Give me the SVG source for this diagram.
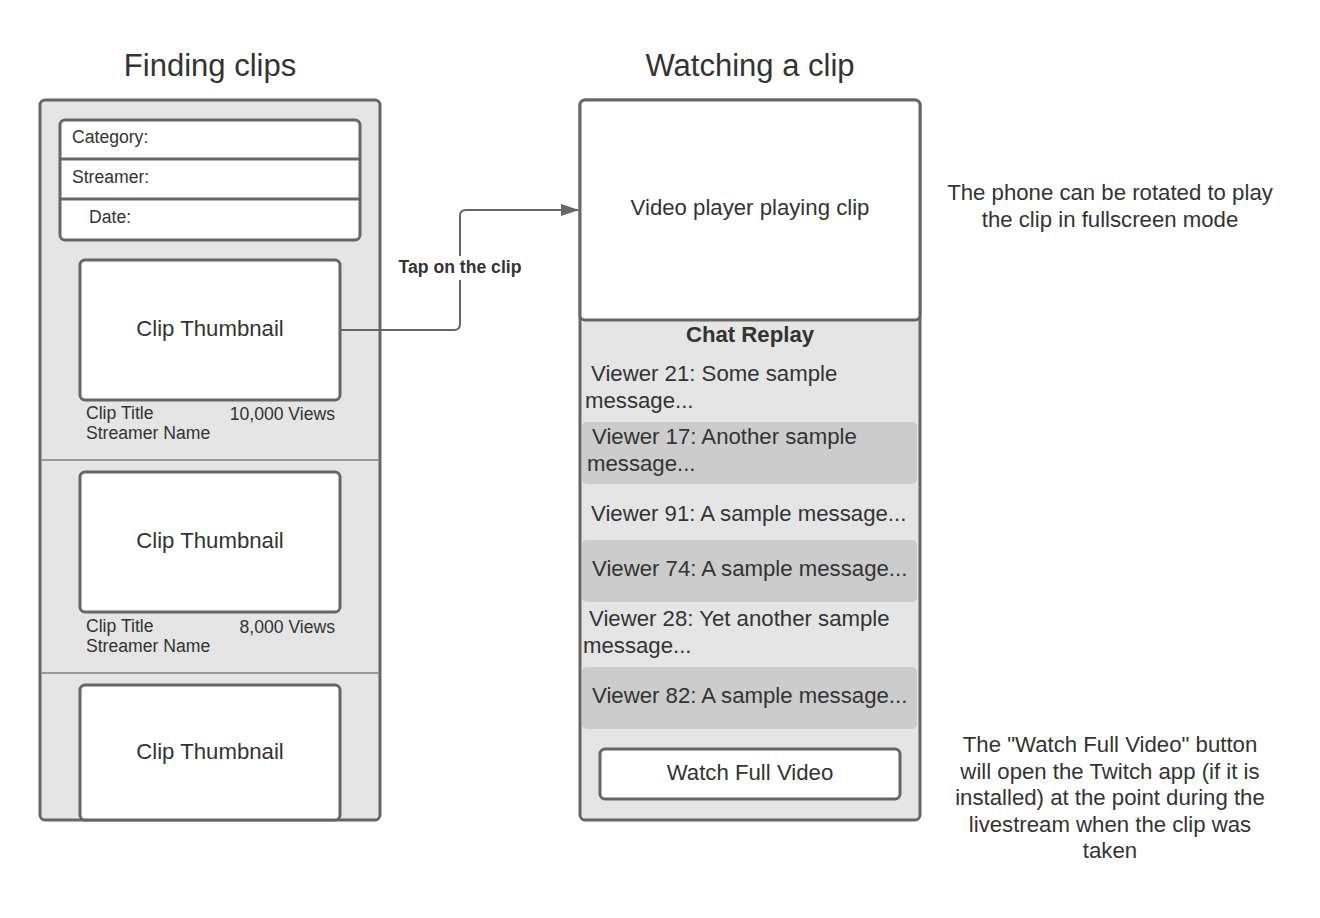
<svg xmlns="http://www.w3.org/2000/svg" width="1320" height="918" viewBox="0 0 1320 918">
<defs>
<style>
text{font-family:"Liberation Sans",Arial,sans-serif;fill:#333}
.phone{fill:#e5e5e5;stroke:#666;stroke-width:3}
.box{fill:#fff;stroke:#666;stroke-width:3}
.sep{stroke:#999;stroke-width:2}
.hl{fill:#cccccc}
.t16{font-size:17.6px}
.t20{font-size:22.2px}
.title{font-size:31px}
.mid{text-anchor:middle}
.end{text-anchor:end}
.conn{fill:none;stroke:#666;stroke-width:2}
</style>
<marker id="arr" markerWidth="18" markerHeight="12" refX="17" refY="6" orient="auto" markerUnits="userSpaceOnUse">
<path d="M0,0 L18,6 L0,12 Z" fill="#666"/>
</marker>
</defs>
<rect width="1320" height="918" fill="#fff"/>
<text class="title mid" x="210" y="76">Finding clips</text>
<text class="title mid" x="750" y="76">Watching a clip</text>

<g id="phone-left">
<rect class="phone" x="40" y="100" width="340" height="720" rx="5"/>
<line class="sep" x1="41" y1="460" x2="379" y2="460"/>
<line class="sep" x1="41" y1="673" x2="379" y2="673"/>
</g>
<g id="filters">
<rect class="box" x="60" y="120" width="300" height="120" rx="5"/>
<line x1="60" y1="159" x2="360" y2="159" stroke="#666" stroke-width="3"/>
<line x1="60" y1="199" x2="360" y2="199" stroke="#666" stroke-width="3"/>
<text class="t16" x="72" y="143">Category:</text>
<text class="t16" x="72" y="183">Streamer:</text>
<text class="t16" x="89" y="223">Date:</text>
</g>
<g id="clip1">
<rect class="box" x="80" y="260" width="260" height="140" rx="5"/>
<text class="t20 mid" x="210" y="336">Clip Thumbnail</text>
<text class="t16" x="86" y="419">Clip Title</text>
<text class="t16" x="86" y="439">Streamer Name</text>
<text class="t16 end" x="335" y="420">10,000 Views</text>
</g>
<g id="clip2">
<rect class="box" x="80" y="472" width="260" height="140" rx="5"/>
<text class="t20 mid" x="210" y="548">Clip Thumbnail</text>
<text class="t16" x="86" y="632">Clip Title</text>
<text class="t16" x="86" y="652">Streamer Name</text>
<text class="t16 end" x="335" y="633">8,000 Views</text>
</g>
<g id="clip3">
<rect class="box" x="80" y="685" width="260" height="135" rx="5"/>
<text class="t20 mid" x="210" y="759">Clip Thumbnail</text>
</g>

<g id="phone-right">
<rect class="phone" x="580" y="100" width="340" height="720" rx="5"/>
</g>
<g id="video">
<rect class="box" x="580" y="100" width="340" height="220" rx="5"/>
<text class="t20 mid" x="750" y="215">Video player playing clip</text>
</g>
<g id="chat">
<text class="t20 mid" x="750" y="342" font-weight="bold">Chat Replay</text>
<text class="t20" x="591" y="381">Viewer 21: Some sample</text>
<text class="t20" x="585" y="408">message...</text>
<rect class="hl" x="582" y="422" width="335" height="62" rx="5"/>
<text class="t20" x="592" y="444">Viewer 17: Another sample</text>
<text class="t20" x="587" y="471">message...</text>
<text class="t20" x="591" y="521">Viewer 91: A sample message...</text>
<rect class="hl" x="582" y="540" width="335" height="62" rx="5"/>
<text class="t20" x="592" y="576">Viewer 74: A sample message...</text>
<text class="t20" x="589" y="626">Viewer 28: Yet another sample</text>
<text class="t20" x="583" y="653">message...</text>
<rect class="hl" x="582" y="667" width="335" height="62" rx="5"/>
<text class="t20" x="592" y="703">Viewer 82: A sample message...</text>
</g>
<g id="watch-button">
<rect class="box" x="600" y="749" width="300" height="50" rx="5"/>
<text class="t20 mid" x="750" y="780">Watch Full Video</text>
</g>

<g id="connectors">
<path class="conn" d="M341,330 H454 Q460,330 460,324 V216 Q460,210 466,210 H578" marker-end="url(#arr)"/>
<rect x="396" y="256" width="128" height="24" fill="#fff"/>
<text class="t16 mid" x="460" y="273" font-weight="bold">Tap on the clip</text>
</g>

<g id="note-rotate">
<text class="t20 mid" x="1110" y="200">The phone can be rotated to play</text>
<text class="t20 mid" x="1110" y="227">the clip in fullscreen mode</text>
</g>
<g id="note-watch">
<text class="t20 mid" x="1110" y="752">The "Watch Full Video" button</text>
<text class="t20 mid" x="1110" y="779">will open the Twitch app (if it is</text>
<text class="t20 mid" x="1110" y="805">installed) at the point during the</text>
<text class="t20 mid" x="1110" y="832">livestream when the clip was</text>
<text class="t20 mid" x="1110" y="858">taken</text>
</g>
</svg>
